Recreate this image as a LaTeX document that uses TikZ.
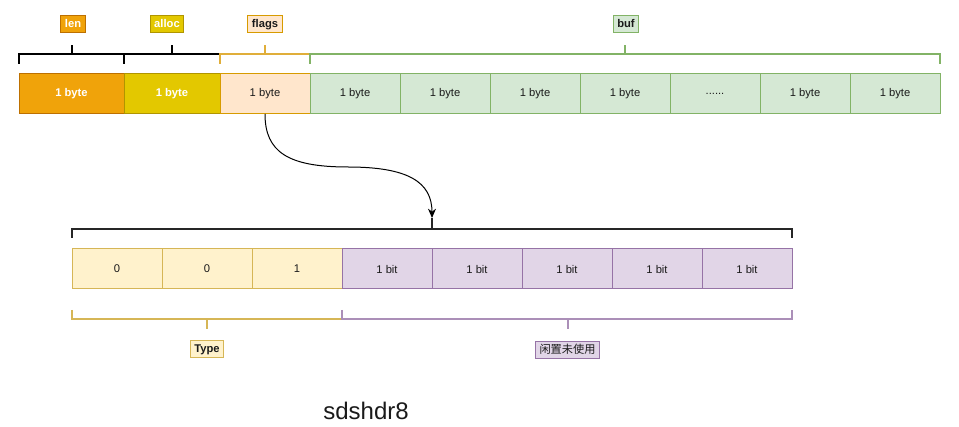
\documentclass[tikz,border=0pt]{standalone}
\usepackage{fontspec}
\setmainfont{Liberation Sans}
\newfontfamily\cjk{Noto Sans CJK SC}
\usetikzlibrary{positioning,arrows.meta}
\definecolor{lenfill}{HTML}{F0A30A}
\definecolor{lendraw}{HTML}{BD7000}
\definecolor{allocfill}{HTML}{E3C800}
\definecolor{allocdraw}{HTML}{B09500}
\definecolor{flagfill}{HTML}{FFE6CC}
\definecolor{flagdraw}{HTML}{D79B00}
\definecolor{flagline}{HTML}{E0AE3A}
\definecolor{buffill}{HTML}{D5E8D4}
\definecolor{bufdraw}{HTML}{82B366}
\definecolor{typefill}{HTML}{FFF2CC}
\definecolor{typedraw}{HTML}{D6B656}
\definecolor{bitfill}{HTML}{E1D5E7}
\definecolor{bitdraw}{HTML}{9673A6}
\definecolor{txt}{HTML}{1A1A1A}
\newcommand\bufgap{......}
\tikzset{
  cell/.style={rectangle,outer sep=0pt,line width=0.75pt,minimum width=67.5pt,
    minimum height=30pt,text=txt,font=\fontsize{8.4}{10}\selectfont},
  lbl/.style={rectangle,line width=0.75pt,inner xsep=3pt,inner ysep=2.2pt,
    text height=6.4pt,text depth=1.8pt,text=txt,font=\fontsize{8.4}{10}\selectfont\bfseries},
  brk/.style={line width=1.5pt},
}
\begin{document}
\begin{tikzpicture}[x=0.75pt,y=-0.75pt]
    \useasboundingbox (0,0) rectangle (959,427);
    \node[cell,fill=lenfill,draw=lendraw,minimum width=78.75pt,text=white,font=\fontsize{8.4}{10}\selectfont\bfseries] (len) at (71.5,94) {1 byte};
    \node[cell,fill=allocfill,draw=allocdraw,minimum width=72pt,text=white,font=\fontsize{8.4}{10}\selectfont\bfseries,right=0pt of len] (alloc) {1 byte};
    \node[cell,fill=flagfill,draw=flagdraw,right=0pt of alloc] (flags) {1 byte};
    \node[cell,fill=buffill,draw=bufdraw,right=0pt of flags] (buf1) {1 byte};
    \foreach \i/\t [count=\j from 1] in {2/1 byte,3/1 byte,4/1 byte,5/\bufgap,6/1 byte,7/1 byte}
      \node[cell,fill=buffill,draw=bufdraw,right=0pt of buf\j] (buf\i) {\t};

    \foreach \a/\b/\c in {19/124/black,124/220/black,220/310/flagline,310/940/bufdraw}{
      \draw[brk,\c] (\a,64) |- (\b,54) -- (\b,64);
      \draw[brk,\c] ({(\a+\b)/2},54) -- ++(0,-9);
    }
    \node[lbl,fill=lenfill,draw=lendraw,text=white] (lenlbl) at (73,24) {len};
    \node[lbl,fill=allocfill,draw=allocdraw,text=white] (alloclbl) at (167,24) {alloc};
    \node[lbl,fill=flagfill,draw=flagdraw] (flagslbl) at (265,24) {flags};
    \node[lbl,fill=buffill,draw=bufdraw] (buflbl) at (626,24) {buf};

    \node[cell,fill=typefill,draw=typedraw] (t1) at (117,269) {0};
    \node[cell,fill=typefill,draw=typedraw,right=0pt of t1] (t2) {0};
    \node[cell,fill=typefill,draw=typedraw,right=0pt of t2] (t3) {1};
    \node[cell,fill=bitfill,draw=bitdraw,right=0pt of t3] (bit1) {1 bit};
    \foreach \i [count=\j from 1] in {2,...,5}
      \node[cell,fill=bitfill,draw=bitdraw,right=0pt of bit\j] (bit\i) {1 bit};

    \draw[brk,black!85] (72,238) |- (792,229) -- (792,238);
    \draw[brk,black!85] (432,229) -- (432,218) coordinate (hook);
    \draw[line width=0.75pt,-{Stealth[length=7pt,width=6pt]}] (flags.south) .. controls (265,152) and (288,167) .. (348,167) .. controls (408,167) and (432,182) .. (hook);

    \draw[brk,typedraw] (72,310) |- (342,319) -- (342,310);
    \draw[brk,typedraw] (207,319) -- (207,329);
    \draw[brk,bitdraw!80] (342,310) |- (792,319) -- (792,310);
    \draw[brk,bitdraw!80] (567.5,319) -- (567.5,329);
    \node[lbl,fill=typefill,draw=typedraw] (typelbl) at (207,349) {Type};
    \node[lbl,fill=bitfill,draw=bitdraw,font=\fontsize{8.4}{10}\cjk] (freelbl) at (567.5,350) {闲置未使用};

    \node[text=txt,font=\fontsize{18}{21}\selectfont] (title) at (366,411) {sdshdr8};
\end{tikzpicture}
\end{document}
